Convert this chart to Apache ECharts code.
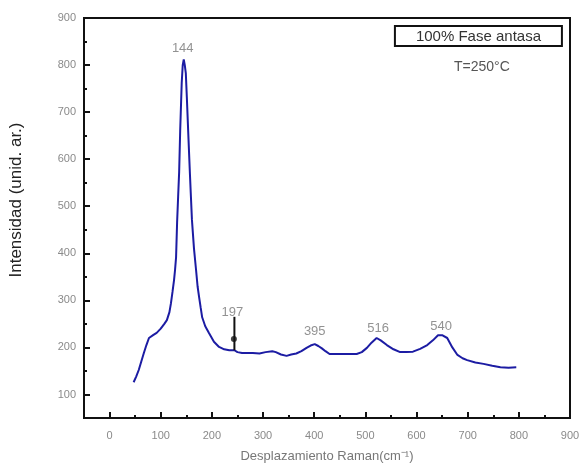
<!DOCTYPE html>
<html lang="es">
<head>
  <meta charset="UTF-8">
  <title>Raman</title>
  <script src="https://cdn.jsdelivr.net/npm/echarts@6/dist/echarts.min.js"></script>
  <style type="text/css">
    body { margin: 0; background: #fff; }
    #main { width: 585px; height: 471px; }
  </style>
</head>
<body>
<div id="main"></div>
<script type="text/javascript">
// espectro Raman
var ramanX = [47,52,57,62,67,72,77,85,92,100,107,112,117,120,123,126,128,130,132,134,136,138,141,143,145,147,149,151,154,157,159,161,165,169,172,175,178,181,187,194,204,214,224,234,244,250,259,270,280,293,305,318,325,335,346,355,365,375,385,393,401,408,415,422,430,445,460,483,493,503,512,522,530,542,555,568,580,593,607,621,632,642,650,660,670,680,690,699,715,731,748,764,780,795];
var ramanY = [126,138,152,170,188,205,220,226,231,240,250,258,275,294,318,343,365,392,466,520,573,660,762,800,812,800,783,732,650,570,520,471,410,365,330,307,285,264,245,231,212,201,196,194,194,190,188,188,188,187,190,192,190,185,182,185,187,192,199,204,207,203,198,192,186,186,186,186,190,199,210,220,215,205,196,190,190,191,197,205,215,226,226,220,200,184,177,173,168,165,161,158,157,158];

// etiquetas de picos
var peakNames = ['144', '197', '395', '516', '540'];
var peakX = [143, 240, 401, 525, 648];
var peakY = [836, 275, 235, 241, 245];

// marcador del pico 197
var markerX = [244, 244];
var markerY = [194, 265];
var markerDot = [243, 218];

var majorTicksX = [0,100,200,300,400,500,600,700,800,900];
var minorTicksX = [50,150,250,350,450,550,650,750,850];
var majorTicksY = [100,200,300,400,500,600,700,800,900];
var minorTicksY = [50,150,250,350,450,550,650,750,850];

var lineData = [];
for (var i = 0; i < ramanX.length; i++) {
  lineData.push([ramanX[i], ramanY[i]]);
}
var labelData = [];
for (var j = 0; j < peakNames.length; j++) {
  labelData.push({ value: [peakX[j], peakY[j]], name: peakNames[j] });
}

var font = 'Liberation Sans, Arial, sans-serif';
var tickGray = '#8a8a8a';

var myChart = echarts.init(document.getElementById('main'));

var option = {
  animation: false,
  textStyle: { fontFamily: font },
  title: [
    {
      text: '100% Fase antasa',
      right: 23, top: 26,
      borderColor: '#111', borderWidth: 2,
      padding: [3, 21, 2, 21],
      textStyle: { fontSize: 15, fontWeight: 'normal', color: '#333', fontFamily: font }
    },
    {
      text: 'T=250°C',
      left: 449, top: 55,
      textStyle: { fontSize: 14, fontWeight: 'normal', color: '#555', fontFamily: font }
    }
  ],
  graphic: [
    {
      type: 'text',
      x: 16, y: 200,
      rotation: Math.PI / 2,
      style: {
        text: 'Intensidad (unid. ar.)',
        fill: '#222',
        font: '17px ' + font,
        textAlign: 'center',
        textVerticalAlign: 'middle'
      }
    }
  ],
  grid: {
    left: 84, right: 15, top: 18, bottom: 53,
    show: true, borderColor: '#111', borderWidth: 2
  },
  xAxis: [
    {
      type: 'value', min: -50, max: 900,
      position: 'bottom',
      name: 'Desplazamiento Raman(cm⁻¹)',
      nameLocation: 'middle', nameGap: 32,
      nameTextStyle: { color: '#777', fontSize: 13, fontFamily: font },
      axisLine: { show: true, onZero: false, lineStyle: { color: '#111', width: 2 } },
      axisTick: { inside: true, length: 6, customValues: majorTicksX, lineStyle: { color: '#111', width: 2 } },
      axisLabel: { customValues: majorTicksX, color: tickGray, fontSize: 11, margin: 12 },
      splitLine: { show: false }
    },
    {
      type: 'value', min: -50, max: 900,
      position: 'bottom',
      axisLine: { show: false, onZero: false },
      axisTick: { inside: true, length: 3, customValues: minorTicksX, lineStyle: { color: '#111', width: 2 } },
      axisLabel: { show: false },
      splitLine: { show: false }
    }
  ],
  yAxis: [
    {
      type: 'value', min: 50, max: 900,
      position: 'left',
      axisLine: { show: true, onZero: false, lineStyle: { color: '#111', width: 2 } },
      axisTick: { inside: true, length: 6, customValues: majorTicksY, lineStyle: { color: '#111', width: 2 } },
      axisLabel: { customValues: majorTicksY, color: tickGray, fontSize: 11, margin: 8 },
      splitLine: { show: false }
    },
    {
      type: 'value', min: 50, max: 900,
      position: 'left',
      axisLine: { show: false, onZero: false },
      axisTick: { inside: true, length: 3, customValues: minorTicksY, lineStyle: { color: '#111', width: 2 } },
      axisLabel: { show: false },
      splitLine: { show: false }
    }
  ],
  series: [
    {
      name: 'Raman',
      type: 'line',
      data: lineData,
      showSymbol: false,
      smooth: false,
      lineStyle: { color: '#1c1ca3', width: 2 },
      z: 3
    },
    {
      name: 'marcador',
      type: 'line',
      data: [[markerX[0], markerY[0]], [markerX[1], markerY[1]]],
      showSymbol: false,
      lineStyle: { color: '#111', width: 2 },
      z: 4
    },
    {
      name: 'punto',
      type: 'scatter',
      data: [markerDot],
      symbolSize: 6,
      itemStyle: { color: '#111' },
      z: 5
    },
    {
      name: 'picos',
      type: 'scatter',
      data: labelData,
      symbolSize: 0,
      label: {
        show: true,
        position: 'inside',
        formatter: '{b}',
        color: '#777',
        fontSize: 13,
        fontFamily: font
      },
      z: 6
    }
  ]
};
myChart.setOption(option);
</script>
</body>
</html>
